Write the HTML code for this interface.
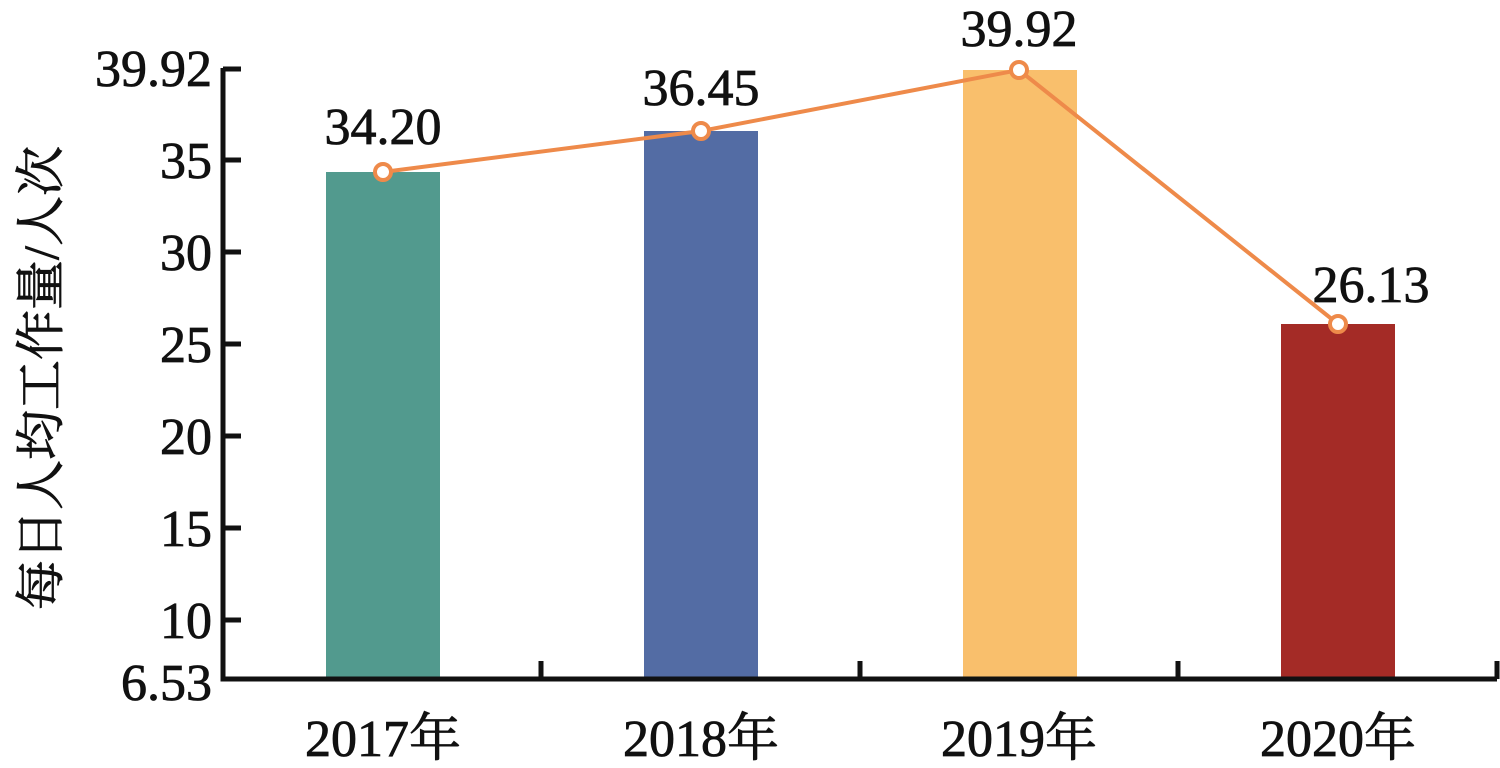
<!DOCTYPE html>
<html><head><meta charset="utf-8"><style>
body{margin:0;background:#fff}
text{font-family:"Liberation Serif","Noto Serif CJK SC",serif;fill:#111;stroke:#111;stroke-width:0.8}
</style></head><body>
<svg width="1500" height="763" xmlns="http://www.w3.org/2000/svg">
<rect width="1500" height="763" fill="#fff"/>
<g>
<rect x="326" y="172" width="114" height="507" fill="#529a8e"/>
<rect x="644" y="131" width="114" height="548" fill="#536ca4"/>
<rect x="963" y="70" width="114" height="609" fill="#f9bf6c"/>
<rect x="1281" y="324" width="114" height="355" fill="#a42b26"/>
</g>
<g stroke="#111" stroke-width="5" fill="none">
<path d="M223,68 V679 H1497"/>
<path d="M223,69 H241 M223,160 H241 M223,252 H241 M223,344 H241 M223,436 H241 M223,528 H241 M223,620 H241"/>
<path d="M541,661 V679 M860,661 V679 M1178,661 V679 M1497,661 V679"/>
</g>
<polyline points="383,172 701,131 1019,70 1338,324" fill="none" stroke="#ee8a4a" stroke-width="4"/>
<g fill="#fff" stroke="#ee8a4a" stroke-width="4">
<circle cx="383" cy="172" r="8"/><circle cx="701" cy="131" r="8"/><circle cx="1019" cy="70" r="8"/><circle cx="1338" cy="324" r="8"/>
</g>
<g font-size="52" text-anchor="end">
<text x="212" y="86">39.92</text>
<text x="212" y="178">35</text>
<text x="212" y="270">30</text>
<text x="212" y="362">25</text>
<text x="212" y="454">20</text>
<text x="212" y="546">15</text>
<text x="212" y="638">10</text>
<text x="212" y="700">6.53</text>
</g>
<g font-size="52" text-anchor="middle">
<text x="383" y="144">34.20</text>
<text x="701" y="105">36.45</text>
<text x="1019" y="46">39.92</text>
<text x="1371" y="302">26.13</text>
<text x="383" y="756">2017年</text>
<text x="701" y="756">2018年</text>
<text x="1019" y="756">2019年</text>
<text x="1338" y="756">2020年</text>
</g>
<text font-size="50" text-anchor="middle" transform="translate(58,378) rotate(-90)">每日人均工作量/人次</text>
</svg>
</body></html>
